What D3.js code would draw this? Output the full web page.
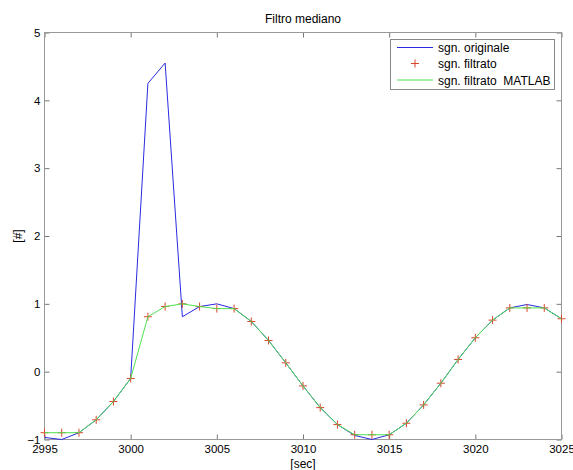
<!DOCTYPE html>
<html>
<head>
<meta charset="utf-8">
<script src="https://cdn.jsdelivr.net/npm/d3@7"></script>
<style>
  body { margin: 0; background: #fff; }
  svg { font-family: "Liberation Sans", Arial, sans-serif; }
</style>
</head>
<body>
<svg></svg>
<script>
const width = 573;
const height = 470;

// time axis (sec)
var secs = [2995, 2996, 2997, 2998, 2999, 3000, 3001, 3002, 3003, 3004, 3005,
            3006, 3007, 3008, 3009, 3010, 3011, 3012, 3013, 3014, 3015,
            3016, 3017, 3018, 3019, 3020, 3021, 3022, 3023, 3024, 3025];

// original signal (with the spike)
var original = [-0.97, -1.0, -0.9, -0.71, -0.44, -0.1, 4.25, 4.55, 0.81, 0.96, 1.0,
                0.93, 0.74, 0.46, 0.13, -0.21, -0.53, -0.78, -0.94, -1.0, -0.93,
                -0.76, -0.49, -0.17, 0.18, 0.5, 0.76, 0.94, 0.99, 0.94, 0.78];

// our median filter
var filtered = [-0.9, -0.9, -0.9, -0.71, -0.44, -0.1, 0.81, 0.96, 1.0, 0.96, 0.93,
                0.93, 0.74, 0.46, 0.13, -0.21, -0.53, -0.78, -0.93, -0.93, -0.93,
                -0.76, -0.49, -0.17, 0.18, 0.5, 0.76, 0.94, 0.94, 0.94, 0.78];

// MATLAB medfilt1
var matlabFilt = [-0.9, -0.9, -0.9, -0.71, -0.44, -0.1, 0.81, 0.96, 1.0, 0.96, 0.93,
                  0.93, 0.74, 0.46, 0.13, -0.21, -0.53, -0.78, -0.93, -0.93, -0.93,
                  -0.76, -0.49, -0.17, 0.18, 0.5, 0.76, 0.94, 0.94, 0.94, 0.78];

var xTicks = [2995, 3000, 3005, 3010, 3015, 3020, 3025];
var yTicks = [-1, 0, 1, 2, 3, 4, 5];

var legendLabels = ["sgn. originale", "sgn. filtrato", "sgn. filtrato  MATLAB"];

let svg = d3.select("svg").attr("width", width).attr("height", height);

let mLeft = 44.5, mRight = 561.5, mTop = 32.5, mBottom = 439.5;

let xScale = d3.scaleLinear().domain([2995, 3025]).range([mLeft, mRight]);
let yScale = d3.scaleLinear().domain([-1, 5]).range([mBottom, mTop]);

const axisColor = "#777";

//axes, ticks pointing inside like matlab
let gx = svg.append("g").attr("transform", "translate(0," + mBottom + ")")
    .call(d3.axisBottom(xScale).tickValues(xTicks).tickFormat(d3.format("d"))
        .tickSizeInner(-5).tickSizeOuter(0).tickPadding(5));
let gy = svg.append("g").attr("transform", "translate(" + mLeft + ",0)")
    .call(d3.axisLeft(yScale).tickValues(yTicks).tickFormat(d3.format("d"))
        .tickSizeInner(-5).tickSizeOuter(0).tickPadding(4));
let gxt = svg.append("g").attr("transform", "translate(0," + mTop + ")")
    .call(d3.axisTop(xScale).tickValues(xTicks).tickSizeInner(-5).tickSizeOuter(0).tickFormat(""));
let gyr = svg.append("g").attr("transform", "translate(" + mRight + ",0)")
    .call(d3.axisRight(yScale).tickValues(yTicks).tickSizeInner(-5).tickSizeOuter(0).tickFormat(""));

[gx, gy, gxt, gyr].forEach(g => {
    g.select(".domain").remove();
    g.selectAll("line").attr("stroke", axisColor);
    g.selectAll("text").attr("fill", "#000").style("font-size", "11.5px")
        .style("font-family", "'Liberation Sans', Arial, sans-serif");
});

svg.append("rect")
    .attr("x", mLeft).attr("y", mTop)
    .attr("width", mRight - mLeft).attr("height", mBottom - mTop)
    .attr("fill", "none").attr("stroke", "#999");

let line = d3.line()
    .x((d, i) => xScale(secs[i]))
    .y(d => yScale(d));

svg.append("path").datum(original)
    .attr("d", line).attr("fill", "none")
    .attr("stroke", "#2a2ae0").attr("stroke-width", 1);

//red crosses
let marks = svg.append("g");
filtered.forEach((v, i) => {
    let cx = xScale(secs[i]), cy = yScale(v);
    marks.append("path")
        .attr("d", "M" + (cx - 4) + "," + cy + "H" + (cx + 4) + "M" + cx + "," + (cy - 4) + "V" + (cy + 4))
        .attr("stroke", "#d8442a").attr("stroke-width", 1).attr("fill", "none");
});

svg.append("path").datum(matlabFilt)
    .attr("d", line).attr("fill", "none")
    .attr("stroke", "#4ee24e").attr("stroke-width", 1);

//title and labels
svg.append("text").attr("x", (mLeft + mRight) / 2).attr("y", 23)
    .attr("text-anchor", "middle").style("font-size", "12px").attr("fill", "#000")
    .text("Filtro mediano");
svg.append("text").attr("x", (mLeft + mRight) / 2).attr("y", 468)
    .attr("text-anchor", "middle").style("font-size", "12px").attr("fill", "#000")
    .text("[sec]");
svg.append("text")
    .attr("transform", "translate(22," + ((mTop + mBottom) / 2) + ") rotate(-90)")
    .attr("text-anchor", "middle").style("font-size", "12px").attr("fill", "#000")
    .text("[#]");

//legend
let lg = svg.append("g");
lg.append("rect").attr("x", 390.5).attr("y", 39.5).attr("width", 164).attr("height", 50)
    .attr("fill", "#fff").attr("stroke", "#888");
let rowsY = [47.5, 63.5, 80];
lg.append("line").attr("x1", 397).attr("x2", 433).attr("y1", rowsY[0]).attr("y2", rowsY[0])
    .attr("stroke", "#2a2ae0");
lg.append("path")
    .attr("d", "M411," + rowsY[1] + "H419M415," + (rowsY[1] - 4) + "V" + (rowsY[1] + 4))
    .attr("stroke", "#d8442a");
lg.append("line").attr("x1", 397).attr("x2", 433).attr("y1", rowsY[2]).attr("y2", rowsY[2])
    .attr("stroke", "#4ee24e");
legendLabels.forEach((t, i) => {
    lg.append("text").attr("x", 438).attr("y", rowsY[i] + 4.5)
        .style("font-size", "12px").style("white-space", "pre").attr("fill", "#000")
        .text(t);
});
</script>
</body>
</html>
